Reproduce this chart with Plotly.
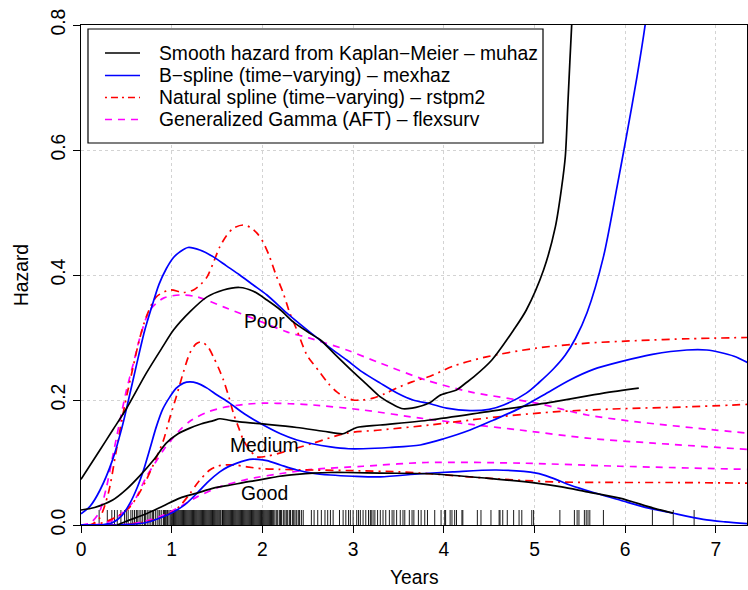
import plotly.graph_objects as go

# ---------------- data ----------------
# Poor group
poor_km_x = [0, 0.2, 0.35, 0.5, 0.72, 0.9, 1.02, 1.2, 1.39, 1.57, 1.75, 1.9, 2.05, 2.2, 2.34, 2.52, 2.64, 2.8, 3.0, 3.15, 3.3, 3.45, 3.55, 3.65, 3.74, 3.85, 3.95, 4.05, 4.14, 4.25, 4.33, 4.53, 4.77, 4.91, 5.10, 5.23, 5.30, 5.34, 5.37, 5.41, 5.45]
poor_km_y = [0.073, 0.118, 0.152, 0.186, 0.243, 0.285, 0.312, 0.341, 0.365, 0.376, 0.380, 0.374, 0.360, 0.344, 0.325, 0.307, 0.296, 0.273, 0.245, 0.225, 0.205, 0.192, 0.186, 0.187, 0.190, 0.196, 0.207, 0.212, 0.216, 0.228, 0.237, 0.264, 0.312, 0.344, 0.408, 0.477, 0.541, 0.590, 0.680, 0.800, 0.900]

poor_bs_x = [0, 0.1, 0.21, 0.35, 0.45, 0.5, 0.61, 0.7, 0.78, 0.86, 0.94, 1.02, 1.09, 1.18, 1.31, 1.46, 1.6, 1.75, 1.9, 2.05, 2.27, 2.52, 2.75, 2.93, 3.1, 3.3, 3.5, 3.66, 3.85, 4.03, 4.29, 4.5, 4.66, 4.91, 5.05, 5.21, 5.34, 5.45, 5.58, 5.76, 5.91, 6.02, 6.13, 6.22, 6.28]
poor_bs_y = [0.018, 0.030, 0.056, 0.105, 0.155, 0.185, 0.255, 0.310, 0.349, 0.385, 0.410, 0.428, 0.437, 0.444, 0.440, 0.429, 0.415, 0.400, 0.384, 0.368, 0.339, 0.309, 0.283, 0.264, 0.245, 0.227, 0.210, 0.200, 0.194, 0.187, 0.183, 0.185, 0.192, 0.211, 0.228, 0.250, 0.272, 0.298, 0.340, 0.429, 0.541, 0.627, 0.717, 0.800, 0.870]

poor_ns_x = [0, 0.1, 0.2, 0.3, 0.39, 0.48, 0.57, 0.65, 0.72, 0.83, 0.98, 1.13, 1.24, 1.32, 1.39, 1.46, 1.53, 1.6, 1.68, 1.79, 1.87, 1.94, 2.01, 2.08, 2.15, 2.23, 2.3, 2.38, 2.49, 2.56, 2.64, 2.73, 2.82, 2.92, 3.0, 3.1, 3.22, 3.35, 3.48, 3.65, 3.85, 4.1, 4.47, 5.02, 5.58, 6.13, 6.7, 7.35]
poor_ns_y = [0.0, 0.0, 0.010, 0.050, 0.120, 0.190, 0.250, 0.300, 0.333, 0.365, 0.376, 0.372, 0.376, 0.385, 0.397, 0.420, 0.445, 0.462, 0.475, 0.480, 0.476, 0.467, 0.452, 0.429, 0.400, 0.371, 0.340, 0.312, 0.272, 0.258, 0.243, 0.226, 0.213, 0.204, 0.200, 0.200, 0.203, 0.210, 0.219, 0.229, 0.238, 0.254, 0.269, 0.283, 0.291, 0.295, 0.298, 0.300]

poor_gg_x = [0, 0.1, 0.2, 0.28, 0.35, 0.42, 0.5, 0.58, 0.65, 0.76, 0.91, 1.09, 1.28, 1.57, 1.94, 2.27, 2.52, 2.93, 3.3, 3.8, 4.29, 5.02, 5.58, 6.13, 7.35]
poor_gg_y = [0.0, 0.003, 0.020, 0.060, 0.110, 0.160, 0.215, 0.260, 0.300, 0.344, 0.363, 0.368, 0.365, 0.349, 0.328, 0.309, 0.299, 0.280, 0.259, 0.232, 0.213, 0.195, 0.176, 0.165, 0.147]

# Medium group
med_km_x = [0, 0.15, 0.35, 0.5, 0.65, 0.8, 0.94, 1.07, 1.2, 1.33, 1.46, 1.53, 1.62, 1.75, 2.05, 2.38, 2.67, 2.89, 2.95, 3.04, 3.3, 3.85, 4.47, 5.21, 5.76, 6.15]
med_km_y = [0.024, 0.028, 0.040, 0.057, 0.079, 0.104, 0.131, 0.146, 0.155, 0.162, 0.167, 0.170, 0.168, 0.165, 0.161, 0.156, 0.150, 0.146, 0.150, 0.156, 0.160, 0.168, 0.181, 0.197, 0.211, 0.219]

med_bs_x = [0, 0.2, 0.35, 0.45, 0.54, 0.62, 0.69, 0.76, 0.83, 0.9, 0.98, 1.05, 1.13, 1.2, 1.28, 1.39, 1.5, 1.64, 1.8, 2.01, 2.2, 2.38, 2.55, 2.75, 2.95, 3.11, 3.4, 3.74, 4.0, 4.29, 4.55, 4.84, 5.1, 5.39, 5.65, 5.94, 6.3, 6.68, 6.9, 7.05, 7.2, 7.35]
med_bs_y = [0.0, 0.0, 0.004, 0.015, 0.035, 0.060, 0.088, 0.122, 0.157, 0.185, 0.205, 0.219, 0.227, 0.229, 0.227, 0.219, 0.208, 0.195, 0.178, 0.160, 0.146, 0.136, 0.130, 0.125, 0.122, 0.122, 0.124, 0.128, 0.138, 0.152, 0.168, 0.187, 0.208, 0.232, 0.249, 0.261, 0.273, 0.280, 0.280, 0.276, 0.270, 0.260]

med_ns_x = [0, 0.2, 0.35, 0.45, 0.54, 0.63, 0.72, 0.82, 0.91, 0.98, 1.05, 1.13, 1.2, 1.27, 1.33, 1.4, 1.46, 1.52, 1.57, 1.63, 1.68, 1.74, 1.79, 1.86, 1.94, 2.05, 2.19, 2.56, 2.93, 3.3, 3.85, 4.47, 5.21, 5.94, 6.68, 7.35]
med_ns_y = [0.0, 0.002, 0.010, 0.018, 0.029, 0.048, 0.072, 0.104, 0.136, 0.172, 0.205, 0.245, 0.275, 0.290, 0.293, 0.285, 0.269, 0.250, 0.232, 0.205, 0.179, 0.155, 0.136, 0.120, 0.109, 0.110, 0.115, 0.131, 0.147, 0.152, 0.160, 0.171, 0.181, 0.186, 0.189, 0.193]

med_gg_x = [0, 0.2, 0.35, 0.5, 0.6, 0.72, 0.82, 0.91, 1.0, 1.09, 1.2, 1.28, 1.4, 1.57, 1.8, 2.01, 2.3, 2.56, 3.11, 3.74, 4.3, 4.84, 5.58, 6.31, 7.35]
med_gg_y = [0.0, 0.001, 0.008, 0.025, 0.042, 0.077, 0.100, 0.120, 0.137, 0.152, 0.166, 0.173, 0.181, 0.188, 0.193, 0.195, 0.194, 0.192, 0.184, 0.171, 0.161, 0.152, 0.139, 0.131, 0.121]

# Good group
good_km_x = [0.4, 0.5, 0.72, 0.9, 1.09, 1.28, 1.46, 1.65, 1.83, 2.0, 2.19, 2.38, 2.56, 2.75, 2.93, 3.3, 3.85, 4.47, 5.02, 5.3, 5.58, 5.94, 6.31, 6.53]
good_km_y = [0.0, 0.006, 0.018, 0.030, 0.043, 0.051, 0.059, 0.064, 0.069, 0.073, 0.078, 0.081, 0.083, 0.084, 0.084, 0.083, 0.082, 0.075, 0.067, 0.061, 0.053, 0.043, 0.027, 0.019]

good_bs_x = [0, 0.4, 0.55, 0.72, 0.85, 1.02, 1.15, 1.28, 1.4, 1.53, 1.62, 1.72, 1.86, 1.95, 2.05, 2.2, 2.38, 2.55, 2.75, 3.0, 3.3, 3.74, 4.1, 4.58, 5.02, 5.2, 5.39, 5.65, 5.94, 6.2, 6.49, 6.86, 7.1, 7.35]
good_bs_y = [0.0, 0.0, 0.001, 0.004, 0.010, 0.021, 0.033, 0.051, 0.069, 0.085, 0.093, 0.099, 0.105, 0.105, 0.103, 0.096, 0.088, 0.083, 0.080, 0.078, 0.077, 0.082, 0.085, 0.088, 0.083, 0.075, 0.064, 0.052, 0.040, 0.029, 0.020, 0.009, 0.005, 0.002]

good_ns_x = [0, 0.5, 0.8, 1.0, 1.1, 1.2, 1.3, 1.42, 1.5, 1.57, 1.7, 1.83, 2.0, 2.19, 2.56, 3.0, 3.5, 3.85, 4.47, 5.21, 5.94, 6.5, 7.35]
good_ns_y = [0.0, 0.001, 0.008, 0.020, 0.032, 0.050, 0.070, 0.088, 0.094, 0.096, 0.096, 0.093, 0.090, 0.089, 0.088, 0.087, 0.085, 0.082, 0.075, 0.069, 0.068, 0.068, 0.067]

good_gg_x = [0, 0.5, 0.7, 0.91, 1.1, 1.28, 1.53, 1.83, 2.19, 2.56, 3.11, 3.81, 4.84, 5.94, 7.35]
good_gg_y = [0.0, 0.001, 0.006, 0.016, 0.030, 0.045, 0.061, 0.073, 0.082, 0.089, 0.094, 0.100, 0.099, 0.094, 0.089]

# event times (rug)
event_times = [0.20, 0.29, 0.34, 0.37, 0.40, 0.44, 0.48, 0.50, 0.52, 0.55, 0.57, 0.59, 0.61, 0.62, 0.64,
               0.66, 0.68, 0.70, 0.71, 0.73, 0.75, 0.77, 0.79, 0.80, 0.82, 0.84, 0.86, 0.87, 0.89, 0.91,
               0.92, 0.93, 0.94, 0.955, 0.96, 0.98, 0.99, 1.00, 1.01, 1.02, 1.03, 1.04, 1.05, 1.06, 1.07,
               1.08, 1.09, 1.10, 1.11, 1.12, 1.13, 1.14, 1.15, 1.16, 1.17, 1.18, 1.19, 1.20, 1.21, 1.22,
               1.23, 1.24, 1.25, 1.26, 1.27, 1.28, 1.29, 1.30, 1.31, 1.32, 1.33, 1.34, 1.35, 1.36, 1.37,
               1.38, 1.39, 1.40, 1.41, 1.42, 1.43, 1.44, 1.45, 1.46, 1.47, 1.48, 1.49, 1.50, 1.51, 1.52,
               1.53, 1.54, 1.555, 1.56, 1.57, 1.58, 1.59, 1.60, 1.61, 1.62, 1.63, 1.64, 1.65, 1.66, 1.67,
               1.68, 1.69, 1.70, 1.71, 1.72, 1.73, 1.74, 1.75, 1.76, 1.77, 1.78, 1.79, 1.80, 1.81, 1.82,
               1.83, 1.84, 1.85, 1.86, 1.87, 1.88, 1.89, 1.90, 1.91, 1.92, 1.93, 1.94, 1.95, 1.96, 1.97,
               1.98, 1.99, 2.00, 2.01, 2.02, 2.03, 2.04, 2.05, 2.06, 2.07, 2.08, 2.09, 2.10, 2.11, 2.12,
               2.13, 2.15, 2.16, 2.17, 2.19, 2.20, 2.21, 2.23, 2.24, 2.26, 2.27, 2.28, 2.30, 2.31, 2.33,
               2.34, 2.35, 2.37, 2.38, 2.40, 2.41, 2.43, 2.45, 2.54, 2.57, 2.61,
               2.65, 2.69, 2.72, 2.75, 2.78, 2.85, 2.89, 2.92, 2.95, 2.97, 3.00, 3.04, 3.06, 3.08, 3.11,
               3.14, 3.17, 3.19, 3.20, 3.22, 3.24, 3.27, 3.30, 3.33, 3.36, 3.40, 3.43, 3.45, 3.48, 3.52,
               3.55, 3.57, 3.62, 3.65, 3.67, 3.72, 3.75, 3.79, 3.82, 3.90, 3.97, 4.01, 4.02, 4.07, 4.09,
               4.12, 4.14, 4.20, 4.21, 4.37, 4.41, 4.52, 4.61, 4.62, 4.65, 4.70, 4.77, 4.83, 4.86, 4.97,
               4.99, 5.28, 5.44, 5.47, 5.49, 5.55, 5.57, 5.59, 5.61, 5.76, 6.30, 6.53, 6.76]

group_labels = ["Poor", "Medium", "Good"]
group_label_x = [2.02, 2.02, 2.02]
group_label_y = [0.326, 0.128, 0.050]

legend_labels = ["Smooth hazard from Kaplan\u2212Meier \u2013 muhaz",
                 "B\u2212spline (time\u2212varying) \u2013 mexhaz",
                 "Natural spline (time\u2212varying) \u2013 rstpm2",
                 "Generalized Gamma (AFT) \u2013 flexsurv"]

x_ticks = [0, 1, 2, 3, 4, 5, 6, 7]
y_ticks = [0.0, 0.2, 0.4, 0.6, 0.8]
y_tick_text = ["0.0", "0.2", "0.4", "0.6", "0.8"]
x_title = "Years"
y_title = "Hazard"

# ---------------- styles ----------------
FONT = "Liberation Sans, Arial, Helvetica, sans-serif"
FS = 19.3
LW = 1.7
styles = {
    "km": dict(color="black", width=LW, dash="solid"),
    "bs": dict(color="#0000FF", width=LW, dash="solid"),
    "ns": dict(color="#FF0000", width=LW, dash="2px,5px,8px,5px"),
    "gg": dict(color="#FF00FF", width=LW, dash="7px,6px"),
}

fig = go.Figure()

# rug
rx, ry = [], []
for t in event_times:
    rx += [t, t, None]
    ry += [0, 0.024, None]
fig.add_trace(go.Scatter(x=rx, y=ry, mode="lines",
                         line=dict(color="black", width=0.9),
                         hoverinfo="skip", showlegend=False))

series = [
    (poor_gg_x, poor_gg_y, "gg"), (med_gg_x, med_gg_y, "gg"), (good_gg_x, good_gg_y, "gg"),
    (poor_ns_x, poor_ns_y, "ns"), (med_ns_x, med_ns_y, "ns"), (good_ns_x, good_ns_y, "ns"),
    (poor_bs_x, poor_bs_y, "bs"), (med_bs_x, med_bs_y, "bs"), (good_bs_x, good_bs_y, "bs"),
    (poor_km_x, poor_km_y, "km"), (med_km_x, med_km_y, "km"), (good_km_x, good_km_y, "km"),
]
for xs, ys, key in series:
    fig.add_trace(go.Scatter(x=xs, y=ys, mode="lines",
                             line=dict(shape="spline", smoothing=0.8, **styles[key]),
                             showlegend=False))

# group labels
for lab, lx, ly in zip(group_labels, group_label_x, group_label_y):
    fig.add_annotation(x=lx, y=ly, text=lab, showarrow=False,
                       font=dict(family=FONT, size=FS, color="black"),
                       xanchor="center", yanchor="middle")

# manual legend (R style box)
L_LEFT, L_RIGHT, L_TOP, L_BOTTOM = 0.0105, 0.6937, 0.992, 0.764
fig.add_shape(type="rect", xref="paper", yref="paper",
              x0=L_LEFT, x1=L_RIGHT, y0=L_BOTTOM, y1=L_TOP,
              line=dict(color="black", width=1.2), fillcolor="white", layer="above")
row_y = [0.944, 0.899, 0.855, 0.811]
for key, lab, yy in zip(["km", "bs", "ns", "gg"], legend_labels, row_y):
    st = styles[key]
    fig.add_shape(type="line", xref="paper", yref="paper",
                  x0=0.036, x1=0.0886, y0=yy, y1=yy, layer="above",
                  line=dict(color=st["color"], width=LW, dash=st["dash"] if key != "ns" else "2px,4px,7px,4px"))
    fig.add_annotation(xref="paper", yref="paper", x=0.1141, y=yy, text=lab,
                       showarrow=False, xanchor="left", yanchor="middle",
                       font=dict(family=FONT, size=FS, color="black"))

# x-axis title, low on the page but fully visible
fig.add_annotation(xref="paper", yref="paper", x=0.5, y=-0.104, text=x_title,
                   showarrow=False, xanchor="center", yanchor="middle",
                   font=dict(family=FONT, size=FS, color="black"))

axis_common = dict(showline=True, mirror=True, linecolor="black", linewidth=1,
                   ticks="outside", ticklen=7, tickcolor="black", tickwidth=1,
                   showgrid=True, gridcolor="#d3d3d3", griddash="dot", gridwidth=1,
                   zeroline=False, tickfont=dict(family=FONT, size=FS, color="black"),
                   automargin=False)

fig.update_layout(
    width=748, height=590,
    margin=dict(l=81, r=1, t=25, b=65),
    paper_bgcolor="white", plot_bgcolor="white",
    font=dict(family=FONT, size=FS, color="black"),
    showlegend=False,
    xaxis=dict(range=[0, 7.343], tickvals=x_ticks, **axis_common),
    yaxis=dict(range=[0, 0.8], tickvals=y_ticks, ticktext=y_tick_text, tickangle=-90,
               title=dict(text=y_title, standoff=14, font=dict(family=FONT, size=FS)),
               **axis_common),
)

fig.write_html("out.html")
